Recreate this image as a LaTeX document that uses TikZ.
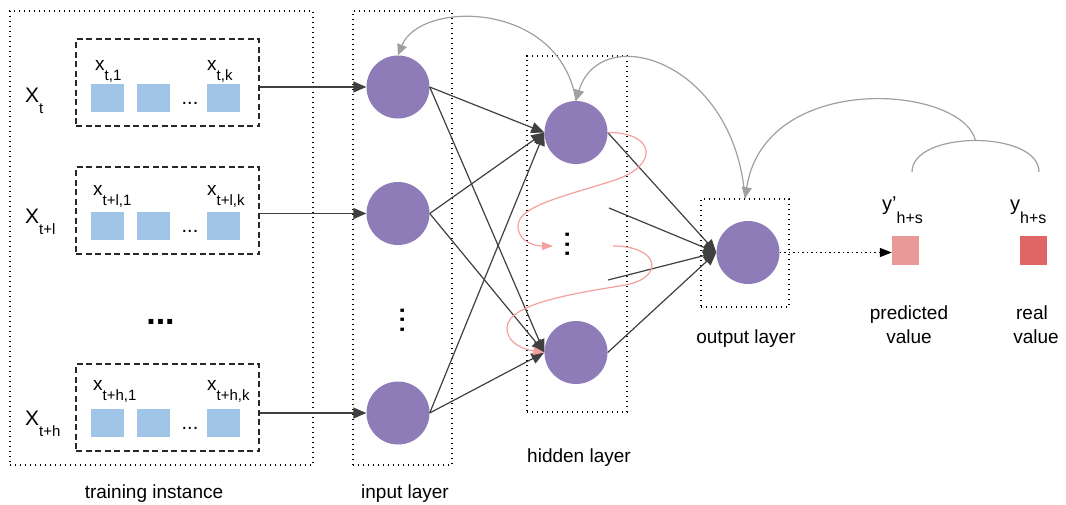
\documentclass[tikz,border=0pt]{standalone}
\usepackage{fontspec}
\setmainfont{Liberation Sans}
\usetikzlibrary{arrows.meta}

\definecolor{neuronc}{RGB}{142,124,185}
\definecolor{featc}{RGB}{161,197,230}
\definecolor{predc}{RGB}{234,153,153}
\definecolor{realc}{RGB}{224,102,102}
\definecolor{linkc}{RGB}{64,64,64}
\definecolor{fbc}{RGB}{160,160,160}
\definecolor{loopc}{RGB}{243,160,158}
\definecolor{boxc}{RGB}{40,40,40}

\newcommand{\fsz}[1]{\fontsize{#1}{#1}\selectfont}
% feature symbol with subscript
\newcommand{\featsym}[2]{{\fsz{19}#1}\raisebox{-10pt}{\fsz{15}#2}}
% instance symbol with subscript
\newcommand{\instsym}[2]{{\fsz{21}#1}\raisebox{-11pt}{\fsz{15}#2}}
% output symbol with subscript
\newcommand{\outsym}[2]{{\fsz{20}#1}\raisebox{-13pt}{\fsz{16}#2}}

\begin{document}
\begin{tikzpicture}[x=1pt,y=-1pt,
  neuron/.style={circle, fill=neuronc, minimum size=63pt, inner sep=0pt},
  feat/.style={rectangle, fill=featc, minimum width=33pt, minimum height=28pt, inner sep=0pt},
  instbox/.style={draw=boxc, line width=1.3pt, dash pattern=on 6pt off 3.5pt,
    minimum width=183pt, minimum height=87pt, inner sep=0pt},
  layerbox/.style={draw=black, line width=1.4pt, dash pattern=on 1.4pt off 3.6pt, inner sep=0pt},
  link/.style={draw=linkc, line width=1.2pt, -{Triangle[length=13pt,width=11pt]}},
  fb/.style={draw=fbc, line width=1.2pt, -{Triangle[length=11pt,width=10pt]}},
  fbline/.style={draw=fbc, line width=1.2pt},
  loop/.style={draw=loopc, line width=1.2pt, -{Triangle[length=11pt,width=8pt]}},
  dotarrow/.style={draw=black, line width=1.5pt, dash pattern=on 1.5pt off 3pt,
    -{Triangle[length=12pt,width=9pt]}},
  lbl/.style={font=\fsz{19}, inner sep=0pt, anchor=base},
  sym/.style={inner sep=0pt, anchor=base west},
  vdots/.style={rotate=90, inner sep=0pt, font=\fsz{34}}
]
\fill[white] (0,0) rectangle (1066,504);
\useasboundingbox (0,0) rectangle (1066,504);

% layer frames
\node[layerbox, minimum width=303pt, minimum height=454pt] (train) at (161.5,238) {};
\node[layerbox, minimum width=99pt, minimum height=454pt] (ibox) at (402.5,238) {};
\node[layerbox, minimum width=100pt, minimum height=356pt] (hbox) at (577,234) {};
\node[layerbox, minimum width=88pt, minimum height=108pt] (obox) at (745,253) {};

% training instances
\node[instbox] (b1) at (167.5,82.5) {};
\node[instbox] (b2) at (167.5,210.5) {};
\node[instbox] (b3) at (167.5,407.5) {};

\foreach \r/\y in {1/98, 2/226, 3/423} {
  \node[feat] (f\r a) at (107.5,\y) {};
  \node[feat] (f\r b) at (153.5,\y) {};
  \node[feat] (f\r k) at (223.5,\y) {};
}
\node[anchor=base, inner sep=0pt, font=\fsz{20}] (e1) at (190,104) {...};
\node[anchor=base, inner sep=0pt, font=\fsz{20}] (e2) at (190,232) {...};
\node[anchor=base, inner sep=0pt, font=\fsz{20}] (e3) at (190,429) {...};

\node[sym] (xa1) at (95,70) {\featsym{x}{t,1}};
\node[sym] (xk1) at (207,70) {\featsym{x}{t,k}};
\node[sym] (xa2) at (93,195) {\featsym{x}{t+l,1}};
\node[sym] (xk2) at (207,195) {\featsym{x}{t+l,k}};
\node[sym] (xa3) at (93,390.5) {\featsym{x}{t+h,1}};
\node[sym] (xk3) at (207,390.5) {\featsym{x}{t+h,k}};

\node[sym] (X1) at (25,102) {\instsym{X}{t}};
\node[sym] (X2) at (25,223) {\instsym{X}{t+l}};
\node[sym] (X3) at (25,425) {\instsym{X}{t+h}};

\node[anchor=base, inner sep=0pt, font=\bfseries\fsz{34}] (emid) at (160.5,324) {...};

% neurons
\node[neuron] (i1) at (398,87) {};
\node[neuron] (i2) at (398,213.5) {};
\node[neuron] (i4) at (398,413) {};
\node[vdots] (idots) at (403,320) {...};

\node[neuron] (h1) at (576,132.5) {};
\node[neuron] (h3) at (576,352.5) {};
\node[vdots] (hdots) at (568,244.5) {...};

\node[neuron] (o) at (748,252.5) {};

% targets
\node[rectangle, fill=predc, minimum width=27pt, minimum height=29pt, inner sep=0pt] (pred) at (905.5,250) {};
\node[rectangle, fill=realc, minimum width=27pt, minimum height=29pt, inner sep=0pt] (real) at (1033.5,250) {};
\node[sym] (yp) at (882,210.5) {\outsym{y\textquoteright}{h+s}};
\node[sym] (yr) at (1010,210.5) {\outsym{y}{h+s}};

% captions
\node[lbl] (tl) at (154,498) {training instance};
\node[lbl] (il) at (405,498) {input layer};
\node[lbl] (hl) at (579,462) {hidden layer};
\node[lbl] (ol) at (746,343.5) {output layer};
\node[lbl] (pv1) at (909,319.5) {predicted};
\node[lbl] (pv2) at (909,343) {value};
\node[lbl] (rv1) at (1032,319.5) {real};
\node[lbl] (rv2) at (1036,343) {value};

% free ends
\coordinate (s1) at (609,208);
\coordinate (s2) at (608,280);
\coordinate (pa) at (553,246);
\coordinate (pb) at (613,246);
\coordinate (lossL) at (912,172);
\coordinate (lossR) at (1039,172);

% instance -> input
\draw[link] (b1.east |- i1) -- (i1);
\draw[link] (b2.east |- i2) -- (i2);
\draw[link] (b3.east |- i4) -- (i4);

% input -> hidden
\foreach \s in {i1,i2,i4} {
  \foreach \t in {h1,h3} {
    \draw[link] (\s.east) -- (\t.west);
  }
}

% hidden -> output
\draw[link] (h1.east) -- (o.west);
\draw[link] (h3.east) -- (o.west);
\draw[link] (s1) -- (o.west);
\draw[link] (s2) -- (o.west);

% recurrent links inside the hidden layer
\draw[loop] (h1.east) .. controls (655,132) and (660,165) .. (615,180)
  .. controls (570,195) and (518,205) .. (518,226)
  .. controls (518,242) and (535,246) .. (pa);
\draw[loop] (pb) .. controls (660,246) and (665,278) .. (625,285)
  .. controls (585,292) and (507,302) .. (507,328)
  .. controls (507,345) and (527,350) .. (h3.west);

% prediction
\draw[dotarrow] (o.east) -- (pred.west |- o.east);

% error feedback
\draw[fbline] (lossL) .. controls (912,130) and (1039,130) .. (lossR) coordinate[pos=0.5] (lossTop);
\draw[fb] (lossTop) .. controls (962,85) and (765,70) .. (obox.north);
\draw[fb] (obox.north) .. controls (735,60) and (600,20) .. (h1.north);
\draw[fb] (h1.north) .. controls (560,0) and (420,0) .. (i1.north);
\end{tikzpicture}
\end{document}
